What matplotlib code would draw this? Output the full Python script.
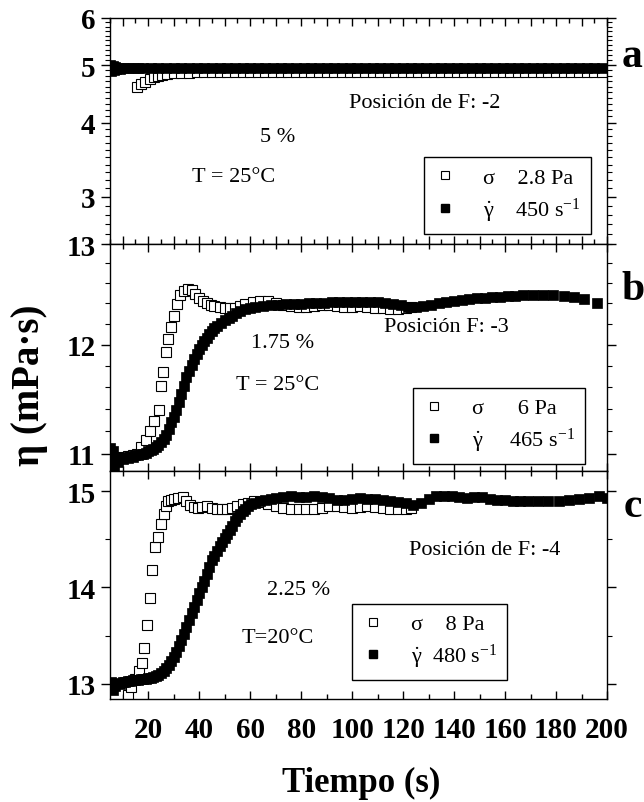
import matplotlib
matplotlib.use("Agg")
import matplotlib.pyplot as plt
import numpy as np
from matplotlib.lines import Line2D
from matplotlib.ticker import FixedLocator, FuncFormatter, NullFormatter, MultipleLocator

plt.rcParams["font.family"] = ["Liberation Serif", "DejaVu Serif"]
plt.rcParams["font.weight"] = "bold"
plt.rcParams["mathtext.fontset"] = "custom"
plt.rcParams["mathtext.rm"] = "Liberation Serif:weight=normal"
plt.rcParams["mathtext.it"] = "Liberation Serif:italic:weight=normal"
plt.rcParams["mathtext.bf"] = "Liberation Serif:bold"

# ---- data: (time s, viscosity mPa.s) ----
# panel a: 5 %, T = 25 C
a_stress = [(15.7, 4.59), (17.3, 4.64), (18.9, 4.69), (20.5, 4.73), (22.1, 4.77), (23.8, 4.79),
            (25.5, 4.81), (27.5, 4.83), (30, 4.84), (33, 4.85), (36, 4.85), (39, 4.86), (42, 4.86),
            (45, 4.86), (48, 4.87), (51, 4.87), (54, 4.87), (57, 4.87), (60, 4.87), (63, 4.87),
            (66, 4.87), (69, 4.87), (72, 4.87), (75, 4.87), (78, 4.87), (81, 4.87), (84, 4.87),
            (87, 4.87), (90, 4.87), (93, 4.87), (96, 4.87), (99, 4.87), (102, 4.87), (105, 4.87),
            (108, 4.87), (111, 4.87), (114, 4.87), (117, 4.87), (120, 4.87), (123, 4.87), (126, 4.87),
            (129, 4.87), (132, 4.87), (135, 4.87), (138, 4.87), (141, 4.87), (144, 4.87), (147, 4.87),
            (150, 4.87), (153, 4.87), (156, 4.87), (159, 4.87), (162, 4.87), (165, 4.87), (168, 4.87),
            (171, 4.87), (174, 4.87), (177, 4.87), (180, 4.87), (183, 4.87), (186, 4.87), (189, 4.87),
            (192, 4.87), (195, 4.87), (198, 4.87)]
a_rate = [(5, 5.00), (5.5, 4.88), (6, 4.98), (6.5, 4.90), (7, 4.96), (7.5, 4.92), (8, 4.95), (9, 4.93),
          (10, 4.95), (12, 4.94), (14, 4.94), (16, 4.95), (18, 4.94), (21, 4.94), (24, 4.95), (27, 4.94),
          (30, 4.94), (33, 4.95), (36, 4.94), (39, 4.94), (42, 4.95), (45, 4.94), (48, 4.94), (51, 4.95),
          (54, 4.94), (57, 4.94), (60, 4.95), (63, 4.94), (66, 4.94), (69, 4.95), (72, 4.94), (75, 4.94),
          (78, 4.95), (81, 4.94), (84, 4.94), (87, 4.95), (90, 4.94), (93, 4.94), (96, 4.95), (99, 4.94),
          (102, 4.94), (105, 4.95), (108, 4.94), (111, 4.94), (114, 4.95), (117, 4.94), (120, 4.94),
          (123, 4.95), (126, 4.94), (129, 4.94), (132, 4.95), (135, 4.94), (138, 4.94), (141, 4.95),
          (144, 4.94), (147, 4.94), (150, 4.95), (153, 4.94), (156, 4.94), (159, 4.95), (162, 4.94),
          (165, 4.94), (168, 4.95), (171, 4.94), (174, 4.94), (177, 4.95), (180, 4.94), (183, 4.94),
          (186, 4.95), (189, 4.94), (192, 4.94), (195, 4.95), (198, 4.94)]

# panel b: 1.75 %, T = 25 C
b_stress = [(6, 10.94), (8, 10.95), (10, 10.97), (12, 10.98), (14, 10.99), (15.7, 11.00), (17.3, 11.06),
            (19, 11.12), (20.6, 11.20), (22.2, 11.29), (24.2, 11.39), (25.1, 11.61), (25.9, 11.74),
            (27, 11.93), (27.8, 12.05), (29.1, 12.17), (30.2, 12.28), (31.4, 12.39), (32.5, 12.48),
            (34, 12.52), (35.5, 12.54), (37, 12.53), (38.5, 12.49), (40, 12.45), (41.5, 12.42),
            (43, 12.40), (44.5, 12.38), (46, 12.37), (48, 12.36), (50, 12.35), (52, 12.35), (54, 12.35),
            (56, 12.37), (58, 12.39), (61, 12.41), (64, 12.42), (67, 12.42), (70, 12.40), (73, 12.38),
            (76, 12.37), (79, 12.36), (82, 12.36), (85, 12.37), (88, 12.38), (91, 12.38), (94, 12.37),
            (97, 12.36), (100, 12.36), (103, 12.37), (106, 12.36), (109, 12.35), (112, 12.35),
            (115, 12.34), (118, 12.34), (121, 12.35), (123, 12.36)]
b_rate = [(5, 11.05), (5.5, 10.90), (6, 11.02), (6.5, 10.88), (7, 10.97), (8, 10.93), (9, 10.96),
          (10, 10.95), (11, 10.97), (12, 10.96), (13, 10.98), (14, 10.97), (15, 10.99), (16, 10.99),
          (17, 11.00), (18, 11.00), (19, 11.01), (20, 11.02), (21, 11.03), (22, 11.04), (23, 11.06),
          (24, 11.08), (25, 11.10), (26, 11.13), (27, 11.17), (28, 11.22), (29, 11.28), (30, 11.33),
          (31, 11.39), (32, 11.46), (33, 11.54), (34, 11.61), (35, 11.69), (36, 11.75), (37, 11.81),
          (38, 11.86), (39, 11.91), (40, 11.96), (41, 12.00), (42, 12.03), (43, 12.06), (44, 12.10),
          (45, 12.13), (46, 12.16), (47, 12.18), (48.5, 12.21), (50, 12.24), (51.5, 12.26), (53, 12.28),
          (54.5, 12.30), (56, 12.32), (58, 12.34), (60, 12.35), (62, 12.36), (65, 12.37), (68, 12.38),
          (71, 12.38), (74, 12.39), (77, 12.39), (80, 12.39), (83, 12.40), (86, 12.40), (89, 12.40),
          (92, 12.41), (95, 12.41), (98, 12.41), (101, 12.41), (104, 12.41), (107, 12.41), (110, 12.41),
          (113, 12.40), (116, 12.39), (119, 12.38), (122, 12.36), (125, 12.36), (128, 12.37),
          (131, 12.38), (134, 12.40), (137, 12.41), (140, 12.42), (143, 12.43), (146, 12.44),
          (149, 12.45), (152, 12.45), (155, 12.46), (158, 12.46), (161, 12.47), (164, 12.47),
          (167, 12.48), (171, 12.48), (175, 12.48), (179, 12.48), (183, 12.47), (187, 12.46),
          (191, 12.44), (196, 12.40)]

# panel c: 2.25 %, T = 20 C
c_stress = [(12.2, 12.88), (13.2, 12.96), (15, 13.05), (16.5, 13.13), (17.5, 13.21), (18.5, 13.37),
            (19.5, 13.61), (20.5, 13.89), (21.6, 14.18), (22.8, 14.42), (24, 14.52), (25.1, 14.66),
            (26, 14.76), (26.8, 14.85), (27.8, 14.90), (29, 14.91), (30.2, 14.92), (31.8, 14.93),
            (33.5, 14.94), (35, 14.90), (36.5, 14.86), (38, 14.84), (39.5, 14.83), (41, 14.84),
            (43, 14.85), (45, 14.83), (47, 14.82), (49, 14.81), (51, 14.82), (53, 14.83), (55, 14.85),
            (57, 14.87), (59, 14.88), (61.5, 14.90), (64, 14.89), (67, 14.87), (70, 14.85), (73, 14.83),
            (76, 14.82), (79, 14.82), (82, 14.81), (85, 14.81), (88, 14.83), (91, 14.85), (94, 14.85),
            (97, 14.84), (100, 14.83), (103, 14.84), (106, 14.85), (109, 14.84), (112, 14.83),
            (115, 14.81), (118, 14.81), (121, 14.82), (123, 14.83)]
c_rate = [(5, 12.95), (5.5, 13.02), (6, 12.93), (6.5, 13.00), (7, 12.97), (8, 13.01), (9, 13.00),
          (10, 13.02), (11, 13.02), (12, 13.03), (13, 13.03), (14, 13.04), (15, 13.04), (16, 13.04),
          (17, 13.05), (18, 13.05), (19, 13.05), (20, 13.06), (21, 13.06), (22, 13.07), (23, 13.08),
          (24, 13.09), (25, 13.11), (26, 13.13), (27, 13.16), (28, 13.19), (29, 13.23), (30, 13.28),
          (31, 13.33), (32, 13.39), (33, 13.45), (34, 13.52), (35, 13.59), (36, 13.66), (37, 13.73),
          (38, 13.80), (39, 13.87), (40, 13.94), (41, 14.00), (42, 14.07), (43, 14.14), (44, 14.21),
          (45, 14.28), (46, 14.33), (47, 14.38), (48, 14.43), (49, 14.47), (50, 14.51), (51, 14.55),
          (52, 14.60), (53, 14.64), (54, 14.69), (55, 14.73), (56, 14.76), (57, 14.79), (58, 14.82),
          (59, 14.85), (60.5, 14.87), (62, 14.88), (64, 14.90), (66, 14.91), (68, 14.92), (70, 14.93),
          (73, 14.94), (76, 14.95), (79, 14.94), (82, 14.94), (85, 14.95), (88, 14.94), (91, 14.93),
          (94, 14.91), (97, 14.91), (100, 14.92), (103, 14.93), (106, 14.92), (109, 14.92),
          (112, 14.91), (115, 14.90), (118, 14.89), (121, 14.88), (124, 14.86), (127, 14.88),
          (130, 14.92), (133, 14.95), (136, 14.95), (139, 14.95), (142, 14.94), (145, 14.93),
          (148, 14.94), (151, 14.94), (154, 14.92), (157, 14.91), (160, 14.91), (163, 14.90),
          (166, 14.90), (169, 14.90), (173, 14.90), (177, 14.90), (181, 14.90), (185, 14.91),
          (189, 14.92), (193, 14.93), (197, 14.95), (200, 14.93)]

legend_labels = [
    ["σ    2.8 Pa", r"$\dot{\mathrm{\gamma}}$    450 s$^{-1}$"],
    ["σ      6 Pa", r"$\dot{\mathrm{\gamma}}$     465 s$^{-1}$"],
    ["σ    8 Pa", r"$\dot{\mathrm{\gamma}}$  480 s$^{-1}$"],
]
notes = [
    ["Posición de F: -2", "5 %", "T = 25°C"],
    ["Posición F: -3", "1.75 %", "T = 25°C"],
    ["Posición de F: -4", "2.25 %", "T=20°C"],
]
panel_letters = ["a", "b", "c"]

W, H = 644, 803
fig = plt.figure(figsize=(W / 100, H / 100), dpi=100)


def fx(px):
    return px / W


def fy(py):
    return 1 - py / H


# panel boxes in pixels: (top, bottom)
rows = [(19, 245), (245, 472), (472, 700)]
x0, x1 = 110, 607
axes = []
for top, bot in rows:
    ax = fig.add_axes([fx(x0), fy(bot), fx(x1) - fx(x0), (bot - top) / H])
    axes.append(ax)

fmt = FuncFormatter(lambda v, p: f"{v:g}")

ax_a, ax_b, ax_c = axes
ax_a.set_yscale("log")
ax_a.set_ylim(2.5, 6)
ax_a.yaxis.set_major_locator(FixedLocator([3, 4, 5, 6]))
ax_a.yaxis.set_minor_locator(FixedLocator(np.arange(2.5, 6.001, 0.1)))

ax_b.set_yscale("log")
ax_b.set_ylim(10.85, 13)
ax_b.yaxis.set_major_locator(FixedLocator([11, 12, 13]))
ax_b.yaxis.set_minor_locator(FixedLocator(np.arange(10.8, 13.001, 0.2)))

ax_c.set_ylim(12.84, 15.21)
ax_c.yaxis.set_major_locator(FixedLocator([13, 14, 15]))
ax_c.yaxis.set_minor_locator(MultipleLocator(0.5))

datasets = [(a_stress, a_rate), (b_stress, b_rate), (c_stress, c_rate)]
leg_anchor = [(0.632, 0.385), (0.610, 0.366), (0.487, 0.417)]

for i, ax in enumerate(axes):
    stress, rate = datasets[i]
    ts, es = np.array(stress).T
    tr, er = np.array(rate).T
    ax.plot(ts, es, ls="none", marker="s", ms=6.8, mfc="white", mec="black", mew=0.8, zorder=2)
    ax.plot(tr, er, ls="none", marker="s", ms=7.6, mfc="black", mec="black", mew=0.5, zorder=3)

    ax.set_xlim(5, 200)
    if i == 0:
        ax.xaxis.set_major_locator(MultipleLocator(10))
        ax.xaxis.set_minor_locator(MultipleLocator(5))
    else:
        ax.xaxis.set_major_locator(MultipleLocator(20))
        ax.xaxis.set_minor_locator(MultipleLocator(10))
    ax.xaxis.set_major_formatter(fmt)
    ax.yaxis.set_major_formatter(fmt)
    ax.yaxis.set_minor_formatter(NullFormatter())

    ax.tick_params(axis="x", which="both", direction="in", top=True, bottom=True,
                   labelbottom=(i == 2), labelsize=21, pad=12)
    ax.tick_params(axis="x", which="major", length=6, width=1)
    ax.tick_params(axis="x", which="minor", length=3.5, width=1)
    ax.tick_params(axis="y", which="both", direction="out", left=True, right=True,
                   labelsize=21, pad=4)
    ax.tick_params(axis="y", which="major", length=6.5, width=1)
    ax.tick_params(axis="y", which="minor", length=3.5, width=0.8)
    for s in ax.spines.values():
        s.set_linewidth(1.0)

    handles = [
        Line2D([], [], ls="none", marker="s", ms=6, mfc="white", mec="black", mew=0.8),
        Line2D([], [], ls="none", marker="s", ms=6, mfc="black", mec="black"),
    ]
    leg = ax.legend(handles, legend_labels[i], loc="upper left", bbox_to_anchor=leg_anchor[i],
                    borderaxespad=0, frameon=True, fancybox=False, framealpha=1,
                    edgecolor="black", prop={"size": 16, "weight": "normal"},
                    handlelength=1.0, handletextpad=1.2, borderpad=0.45, labelspacing=0.35)
    leg.get_frame().set_linewidth(1.0)
    leg.set_zorder(5)

# annotations (pixel centre x, baseline y)
note_pos = [
    [(425, 108), (278, 142), (234, 182)],
    [(446, 332), (283, 348), (278, 390)],
    [(485, 555), (299, 595), (278, 643)],
]
for i in range(3):
    for txt, (px, py) in zip(notes[i], note_pos[i]):
        fig.text(fx(px), fy(py), txt, ha="center", va="baseline", fontsize=16, fontweight="normal")

letter_pos = [(632, 67), (633, 300), (633, 517)]
for txt, (px, py) in zip(panel_letters, letter_pos):
    fig.text(fx(px), fy(py), txt, ha="center", va="baseline", fontsize=30, fontweight="bold")

fig.text(fx(361), fy(792), "Tiempo (s)", ha="center", va="baseline", fontsize=25, fontweight="bold")
fig.text(fx(30), fy(385), "η (mPa·s)", ha="center", va="center", rotation=90, fontsize=28,
         fontweight="bold")

fig.savefig("out.png", dpi=100)
